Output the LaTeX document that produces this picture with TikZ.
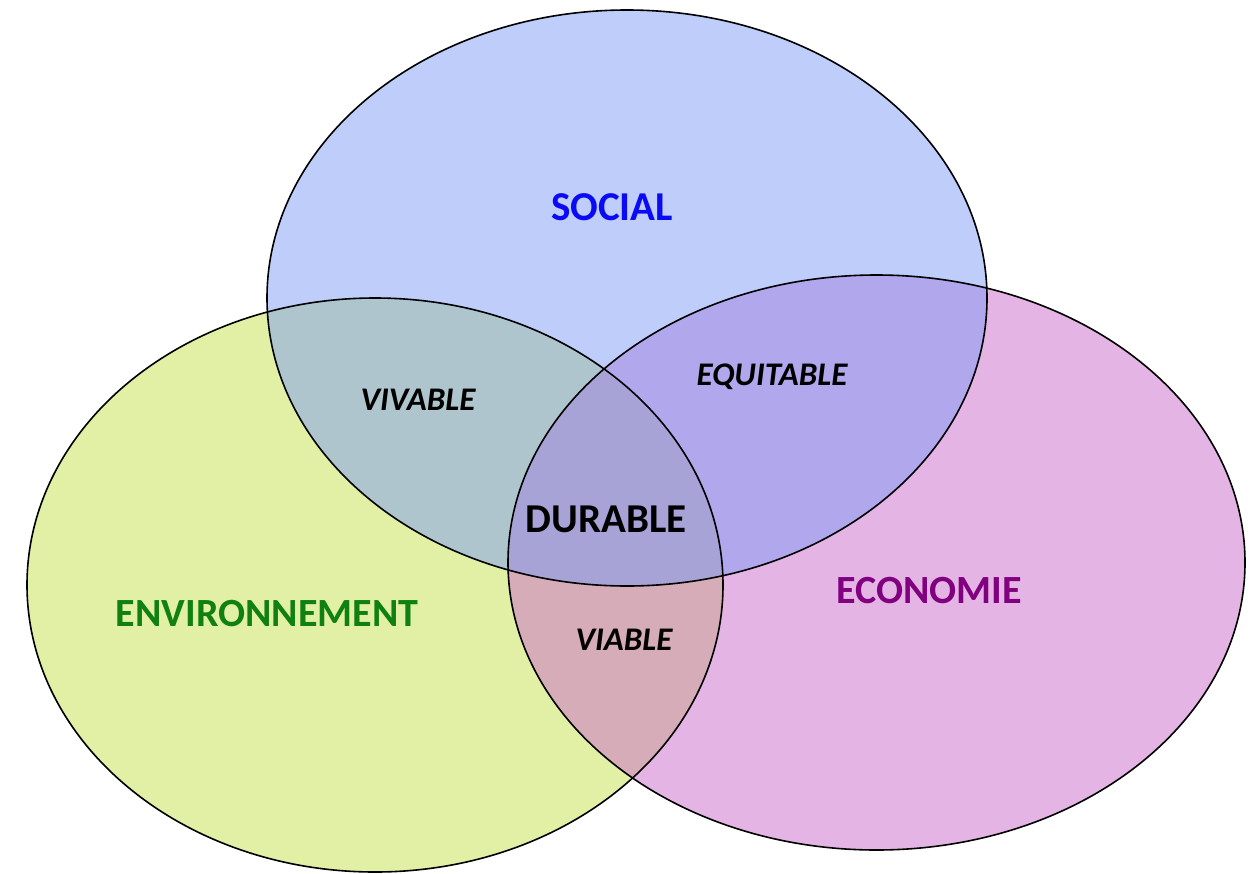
\documentclass[tikz,border=0pt]{standalone}
\usepackage{fontspec}
\setmainfont{Carlito}
\definecolor{socfill}{RGB}{125,155,245}
\definecolor{envfill}{RGB}{195,225,75}
\definecolor{ecofill}{RGB}{201,105,201}
\definecolor{socblue}{RGB}{10,10,245}
\definecolor{envgreen}{RGB}{16,128,16}
\definecolor{ecopurple}{RGB}{128,0,128}
\begin{document}
\begin{tikzpicture}[x=1pt,y=-1pt,
  circ/.style={draw=black,line width=1.6pt},
  shade/.style={fill opacity=0.5},
  big/.style={font=\fontsize{41}{41}\selectfont\bfseries},
  small/.style={font=\fontsize{33}{33}\selectfont\bfseries\itshape}]
\useasboundingbox (0,0) rectangle (1258,873);
\fill[envfill,shade] (375,585) ellipse [x radius=348,y radius=287];
\fill[ecofill,shade] (876.5,562.5) ellipse [x radius=368.5,y radius=287.5];
\fill[socfill,shade] (627,298) ellipse [x radius=360,y radius=288];
\draw[circ] (375,585) ellipse [x radius=348,y radius=287];
\draw[circ] (876.5,562.5) ellipse [x radius=368.5,y radius=287.5];
\draw[circ] (627,298) ellipse [x radius=360,y radius=288];
\node[big,text=socblue] (soc) at (612,207) {SOCIAL};
\node[big,text=envgreen,font=\fontsize{40}{40}\selectfont\bfseries] (env) at (267,614) {ENVIRONNEMENT};
\node[big,text=ecopurple,font=\fontsize{40}{40}\selectfont\bfseries] (eco) at (929,591) {ECONOMIE};
\node[big] (dur) at (606,519) {DURABLE};
\node[small] (viv) at (418,400) {VIVABLE};
\node[small] (equ) at (772,377) {EQUITABLE};
\node[small] (via) at (624,640) {VIABLE};
\end{tikzpicture}
\end{document}
